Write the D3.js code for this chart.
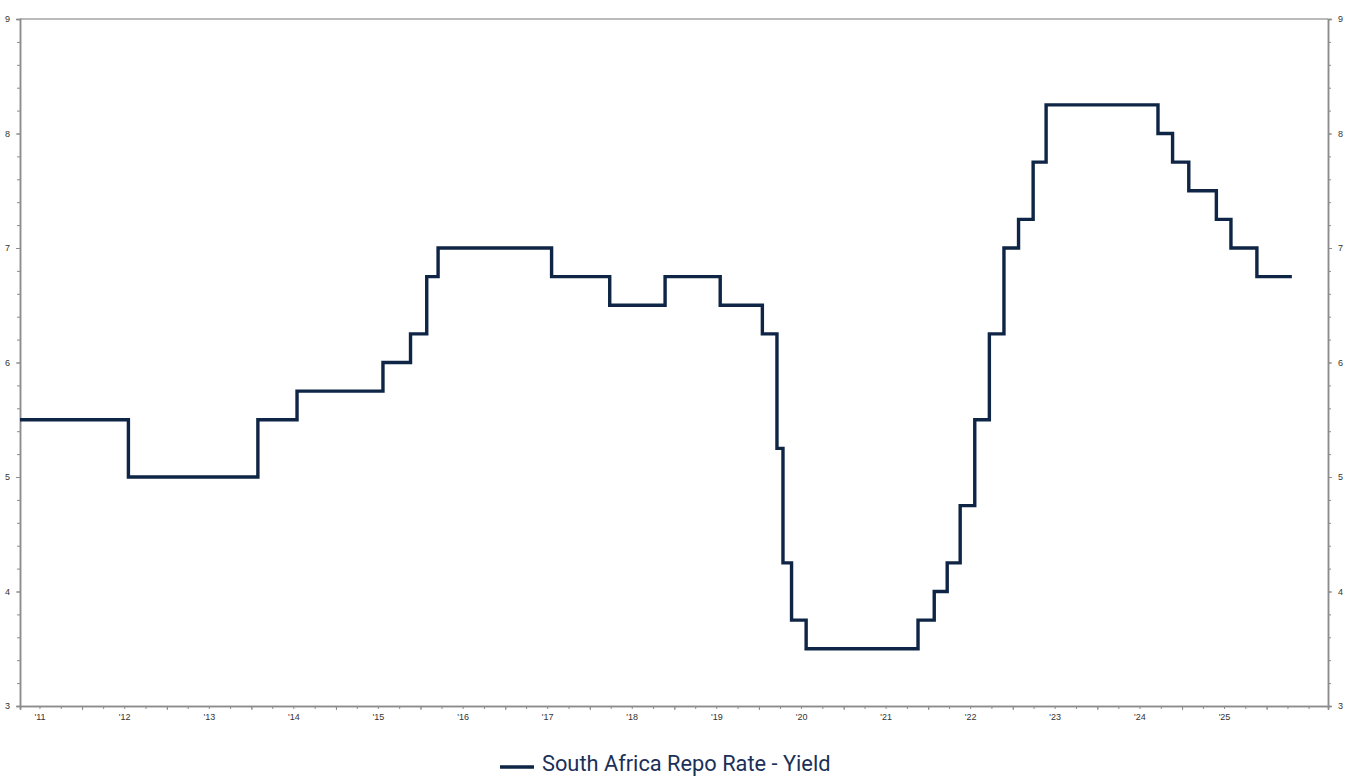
<!DOCTYPE html>
<html><head><meta charset="utf-8">
<script src="https://cdn.jsdelivr.net/npm/d3@7"></script>
<style>body{margin:0;background:#fff}svg{display:block}</style>
</head><body>
<script>
// Data: policy-change dates and the repo rate (%) from each date on
const changeDates = ["2011-04-08","2012-07-19","2014-01-29","2014-07-17","2015-07-23","2015-11-19","2016-01-28","2016-03-17","2017-07-20","2018-03-28","2018-11-22","2019-07-18","2020-01-16","2020-03-19","2020-04-14","2020-05-21","2020-07-23","2021-11-18","2022-01-27","2022-03-24","2022-05-19","2022-07-21","2022-09-22","2022-11-24","2023-01-26","2023-03-30","2023-05-25","2024-09-19","2024-11-21","2025-01-30","2025-05-29","2025-07-31","2025-11-20","2026-04-20"];
const repoRate = [5.5,5.0,5.5,5.75,6.0,6.25,6.75,7.0,6.75,6.5,6.75,6.5,6.25,5.25,4.25,3.75,3.5,3.75,4.0,4.25,4.75,5.5,6.25,7.0,7.25,7.75,8.25,8.0,7.75,7.5,7.25,7.0,6.75,6.75];
const yTicks = [3,4,5,6,7,8,9];
const yearLabels = ["'11","'12","'13","'14","'15","'16","'17","'18","'19","'20","'21","'22","'23","'24","'25"];
const labelYears = [2011,2012,2013,2014,2015,2016,2017,2018,2019,2020,2021,2022,2023,2024,2025];
const seriesName = "South Africa Repo Rate - Yield";

const W=1352,H=776;
const m={l:20,r:24,t:19,b:70};
const parse=d3.timeParse("%Y-%m-%d");
const data=changeDates.map((d,i)=>({date:parse(d),v:repoRate[i]}));

const svg=d3.select("body").append("svg").attr("width",W).attr("height",H);
const x=d3.scaleTime().domain([parse("2011-04-08"),parse("2026-09-23")]).range([m.l,W-m.r]);
const y=d3.scaleLinear().domain([3,9]).range([H-m.b,m.t]);
const axisCol="#8c8c8c", txtCol="#333";

// frame top
svg.append("line").attr("x1",m.l).attr("x2",W-m.r).attr("y1",m.t).attr("y2",m.t).attr("stroke","#777").attr("stroke-width",1.2);

function styleAxis(g){
  g.select(".domain").attr("stroke",axisCol).attr("stroke-width",1.5);
  g.selectAll(".tick line").attr("stroke",axisCol);
  g.selectAll(".tick text").attr("fill",txtCol).style("font-family","Liberation Sans, Arial, sans-serif").style("font-size","9px");
}
// minor y ticks
const yMinor=d3.range(3,9.001,0.2);
const gL=svg.append("g").attr("transform",`translate(${m.l},0)`).call(d3.axisLeft(y).tickValues(yMinor).tickSize(3).tickFormat(""));
styleAxis(gL);
const gL2=svg.append("g").attr("transform",`translate(${m.l},0)`).call(d3.axisLeft(y).tickValues(yTicks).tickSize(4).tickPadding(6).tickFormat(d3.format("d")));
styleAxis(gL2);
const gR=svg.append("g").attr("transform",`translate(${W-m.r},0)`).call(d3.axisRight(y).tickValues(yMinor).tickSize(3).tickFormat(""));
styleAxis(gR);
const gR2=svg.append("g").attr("transform",`translate(${W-m.r},0)`).call(d3.axisRight(y).tickValues(yTicks).tickSize(4).tickPadding(6).tickFormat(d3.format("d")));
styleAxis(gR2);

// x axis: quarterly ticks, year-start ticks, labels mid-year
const gX=svg.append("g").attr("transform",`translate(0,${H-m.b})`).call(d3.axisBottom(x).ticks(d3.timeMonth.every(3)).tickSize(3).tickFormat(""));
styleAxis(gX);
const gX2=svg.append("g").attr("transform",`translate(0,${H-m.b})`).call(d3.axisBottom(x).ticks(d3.timeYear.every(1)).tickSize(4).tickFormat(""));
styleAxis(gX2);
const labelDates=labelYears.map(yv=>new Date(yv,6,1));
const gX3=svg.append("g").attr("transform",`translate(0,${H-m.b})`).call(d3.axisBottom(x).tickValues(labelDates).tickSize(0).tickPadding(8).tickFormat((d,i)=>yearLabels[i]));
styleAxis(gX3);
gX3.select(".domain").remove();

// line
const line=d3.line().x(d=>x(d.date)).y(d=>y(d.v)).curve(d3.curveStepAfter);
svg.append("path").datum(data).attr("d",line).attr("fill","none").attr("stroke","#0f2545").attr("stroke-width",3.4).attr("stroke-linejoin","miter");

// legend
const lg=svg.append("g");
lg.append("line").attr("x1",500).attr("x2",534).attr("y1",767).attr("y2",767).attr("stroke","#0f2545").attr("stroke-width",3.5);
lg.append("text").attr("x",542).attr("y",771).text(seriesName).attr("fill","#1b3058").style("font-family","Roboto, sans-serif").style("font-size","21.8px");
</script>
</body></html>
